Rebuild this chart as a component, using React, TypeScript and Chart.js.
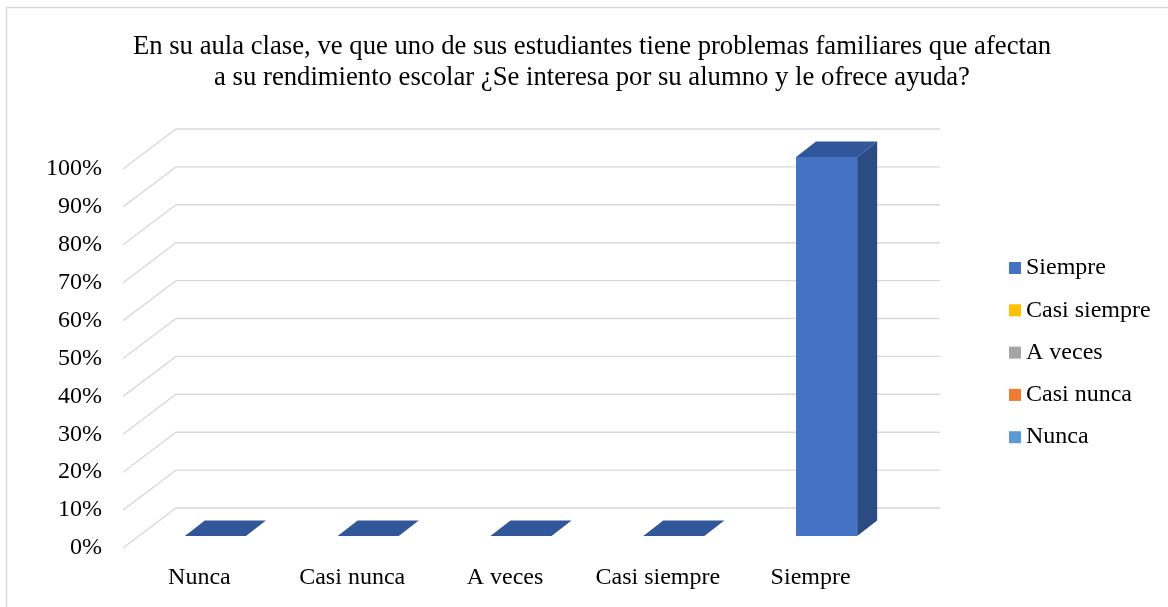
import { useEffect, useRef } from 'react';
import { Chart, registerables } from 'chart.js';

Chart.register(...registerables);

const categories = ['Nunca', 'Casi nunca', 'A veces', 'Casi siempre', 'Siempre'];
const values = [0, 0, 0, 0, 1];
const legendColors = ['#5B9BD5', '#ED7D31', '#A5A5A5', '#FFC000', '#4472C4'];
const tickLabels = ['0%', '10%', '20%', '30%', '40%', '50%', '60%', '70%', '80%', '90%', '100%'];
const titleLines = [
  'En su aula clase, ve que uno de sus estudiantes tiene problemas familiares que afectan',
  'a su rendimiento escolar ¿Se interesa por su alumno y le ofrece ayuda?',
];

const FONT = '"Liberation Serif", "Times New Roman", serif';

const threeD = {
  id: 'threeD',
  beforeDatasetsDraw(chart: any) {
    const { ctx, chartArea } = chart;
    const y = chart.scales.y;
    const wx = 53, wy = -40;
    ctx.save();
    ctx.strokeStyle = '#D9D9D9';
    ctx.lineWidth = 1.4;
    y.ticks.forEach((t: any) => {
      const py = y.getPixelForValue(t.value);
      ctx.beginPath();
      ctx.moveTo(chartArea.left, py);
      ctx.lineTo(chartArea.left + wx, py + wy);
      ctx.lineTo(chartArea.right + wx, py + wy);
      ctx.stroke();
    });
    ctx.restore();
  },
  afterDatasetsDraw(chart: any) {
    const { ctx } = chart;
    const meta = chart.getDatasetMeta(0);
    const fx = 16, fy = -12, dx = 20, dy = -15.5;
    ctx.save();
    meta.data.forEach((el: any) => {
      const { x, y, base, width } = el.getProps(['x', 'y', 'base', 'width'], true);
      const l = x - width / 2 + fx;
      const r = x + width / 2 + fx;
      const t = y + fy;
      const b = base + fy;
      if (b - t > 0.5) {
        ctx.fillStyle = '#4472C4';
        ctx.fillRect(l, t, r - l, b - t);
        ctx.fillStyle = '#2B4B82';
        ctx.beginPath();
        ctx.moveTo(r, t);
        ctx.lineTo(r + dx, t + dy);
        ctx.lineTo(r + dx, b + dy);
        ctx.lineTo(r, b);
        ctx.closePath();
        ctx.fill();
      }
      ctx.fillStyle = '#31579A';
      ctx.beginPath();
      ctx.moveTo(l, t);
      ctx.lineTo(l + dx, t + dy);
      ctx.lineTo(r + dx, t + dy);
      ctx.lineTo(r, t);
      ctx.closePath();
      ctx.fill();
    });
    ctx.restore();
  },
  afterDraw(chart: any) {
    const { ctx } = chart;
    ctx.save();
    // border
    ctx.strokeStyle = '#D9D9D9';
    ctx.lineWidth = 1.5;
    ctx.beginPath();
    ctx.moveTo(6.5, 607);
    ctx.lineTo(6.5, 7.5);
    ctx.lineTo(1168, 7.5);
    ctx.stroke();
    // title
    ctx.fillStyle = '#000';
    ctx.font = `26.7px ${FONT}`;
    ctx.textAlign = 'center';
    ctx.textBaseline = 'middle';
    titleLines.forEach((line, i) => ctx.fillText(line, 592, 47 + i * 30.5));
    // legend
    ctx.font = `24px ${FONT}`;
    ctx.textAlign = 'left';
    const order = categories.map((_, i) => categories.length - 1 - i);
    order.forEach((ci, row) => {
      const cy = 268 + row * 42.3;
      ctx.fillStyle = legendColors[ci];
      ctx.fillRect(1009, cy - 6, 12, 12);
      ctx.fillStyle = '#000';
      ctx.fillText(categories[ci], 1026, cy);
    });
    ctx.restore();
  },
};

export default function App() {
  const ref = useRef<HTMLCanvasElement>(null);
  useEffect(() => {
    document.body.style.margin = '0';
    const chart = new Chart(ref.current!, {
      type: 'bar',
      data: {
        labels: categories,
        datasets: [
          {
            data: values,
            backgroundColor: 'rgba(0,0,0,0)',
            borderWidth: 0,
            barPercentage: 0.4,
            categoryPercentage: 1,
          },
        ],
      },
      options: {
        animation: false,
        responsive: false,
        devicePixelRatio: 1,
        layout: { padding: { top: 169, right: 281, left: 0, bottom: 0 } },
        plugins: {
          legend: { display: false },
          title: { display: false },
          tooltip: { enabled: false },
        },
        scales: {
          x: {
            grid: { display: false, drawTicks: false },
            border: { display: false },
            ticks: { color: '#000', font: { family: FONT, size: 24 }, padding: 15, maxRotation: 0, autoSkip: false },
            afterFit: (s: any) => { s.height = 59; },
          },
          y: {
            min: 0,
            max: 1,
            grid: { display: false, drawTicks: false },
            border: { display: false },
            ticks: {
              stepSize: 0.1,
              color: '#000',
              font: { family: FONT, size: 24 },
              padding: 21,
              callback: (_v: any, i: number) => tickLabels[i],
            },
            afterFit: (s: any) => { s.width = 123; },
          },
        },
      },
      plugins: [threeD],
    });
    return () => chart.destroy();
  }, []);
  return (
    <div style={{ position: 'fixed', left: 0, top: 0, width: 1168, height: 607, background: '#fff' }}>
      <canvas ref={ref} width={1168} height={607} />
    </div>
  );
}
